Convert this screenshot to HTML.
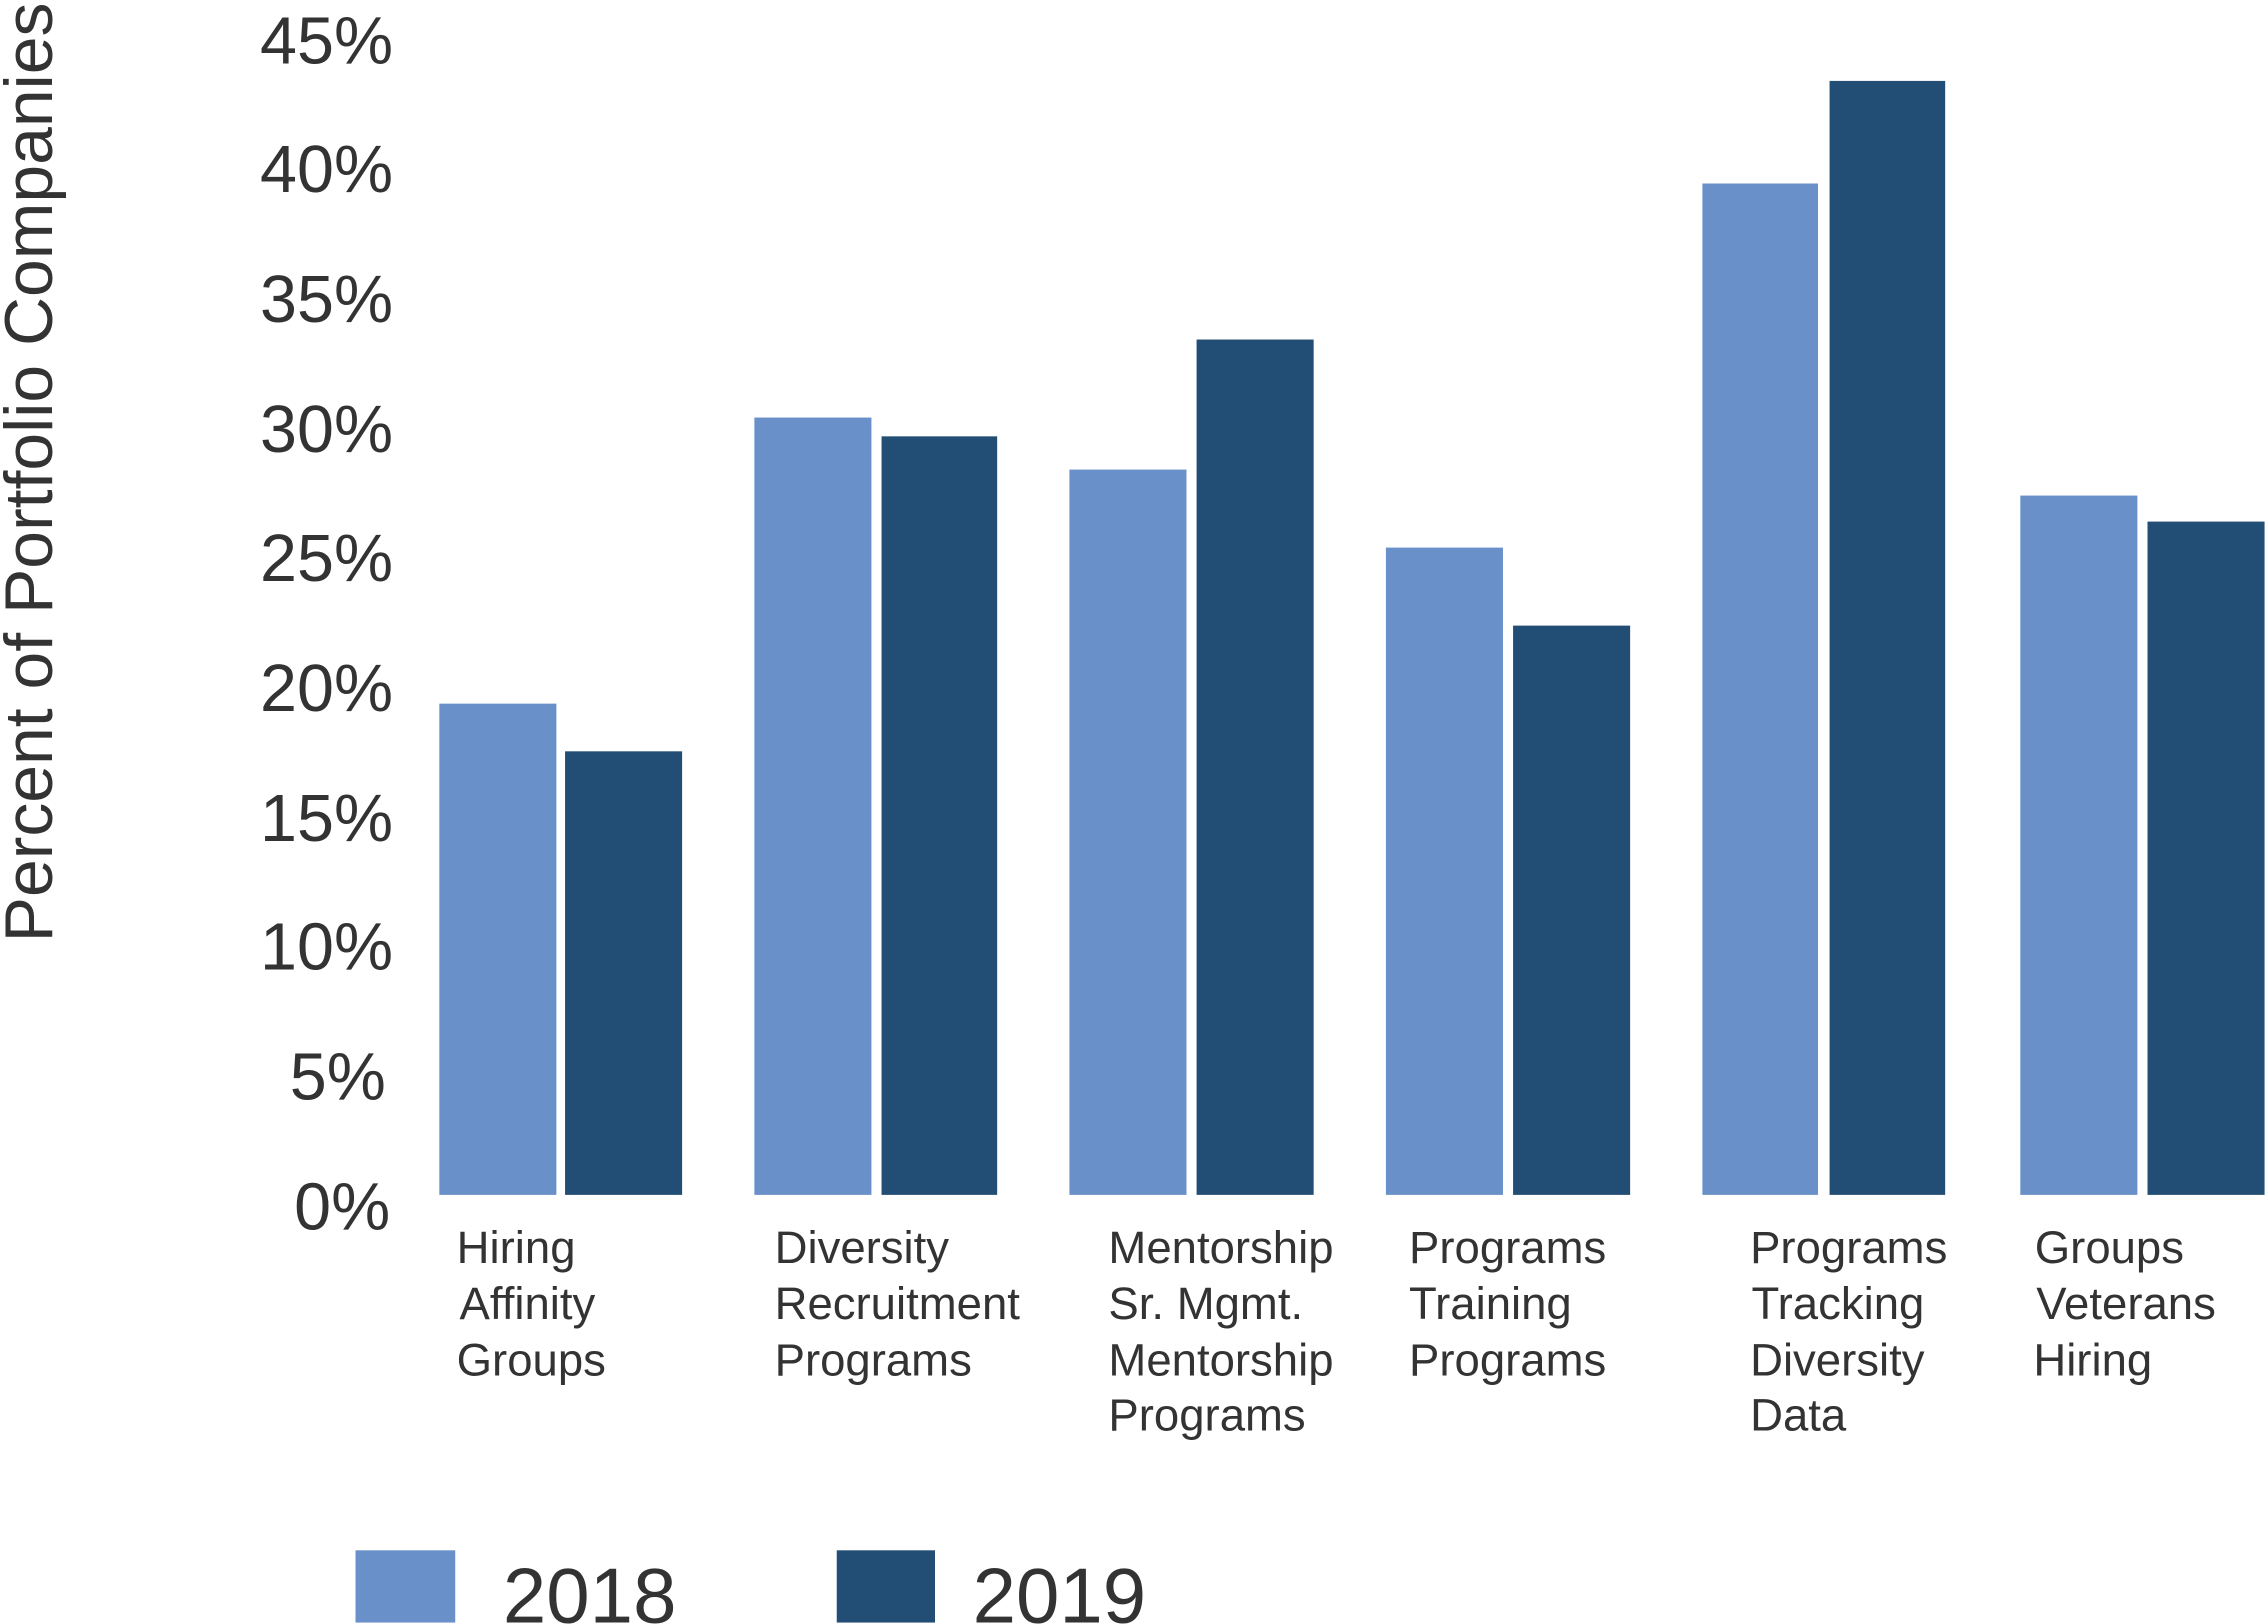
<!DOCTYPE html>
<html><head><meta charset="utf-8"><style>html,body{margin:0;padding:0;background:#fff}svg{display:block}</style></head>
<body>
<svg width="2266" height="1624" viewBox="0 0 1568 1124" preserveAspectRatio="none" xmlns="http://www.w3.org/2000/svg" font-family="Liberation Sans, Arial, sans-serif" fill="#333">
<g font-size="46" text-anchor="end">
<text x="270" y="851">0%</text>
<text x="267" y="761">5%</text>
<text x="272" y="671">10%</text>
<text x="272" y="582">15%</text>
<text x="272" y="492">20%</text>
<text x="272" y="402">25%</text>
<text x="272" y="313">30%</text>
<text x="272" y="223">35%</text>
<text x="272" y="133">40%</text>
<text x="272" y="44">45%</text>
</g>
<text transform="translate(36,327) rotate(-90)" font-size="47" text-anchor="middle">Percent of Portfolio Companies</text>
<g fill="#6990c8">
<rect x="304" y="487" width="81" height="340"/>
<rect x="522" y="289" width="81" height="538"/>
<rect x="740" y="325" width="81" height="502"/>
<rect x="959" y="379" width="81" height="448"/>
<rect x="1178" y="127" width="80" height="700"/>
<rect x="1398" y="343" width="81" height="484"/>
</g>
<g fill="#224e75">
<rect x="391" y="520" width="81" height="307"/>
<rect x="610" y="302" width="80" height="525"/>
<rect x="828" y="235" width="81" height="592"/>
<rect x="1047" y="433" width="81" height="394"/>
<rect x="1266" y="56" width="80" height="771"/>
<rect x="1486" y="361" width="81" height="466"/>
</g>
<g font-size="31.5">
<text x="316" y="874">Hiring</text><text x="318" y="913">Affinity</text><text x="316" y="952">Groups</text>
<text x="536" y="874">Diversity</text><text x="536" y="913">Recruitment</text><text x="536" y="952">Programs</text>
<text x="767" y="874">Mentorship</text><text x="767" y="913">Sr. Mgmt.</text><text x="767" y="952">Mentorship</text><text x="767" y="990">Programs</text>
<text x="975" y="874">Programs</text><text x="975" y="913">Training</text><text x="975" y="952">Programs</text>
<text x="1211" y="874">Programs</text><text x="1212" y="913">Tracking</text><text x="1211" y="952">Diversity</text><text x="1211" y="990">Data</text>
<text x="1408" y="874">Groups</text><text x="1409" y="913">Veterans</text><text x="1407" y="952">Hiring</text>
</g>
<rect x="246" y="1073" width="69" height="50" fill="#6990c8"/>
<rect x="579" y="1073" width="68" height="50" fill="#224e75"/>
<text x="348" y="1123" font-size="54">2018</text>
<text x="673" y="1123" font-size="54">2019</text>
</svg>
</body></html>
